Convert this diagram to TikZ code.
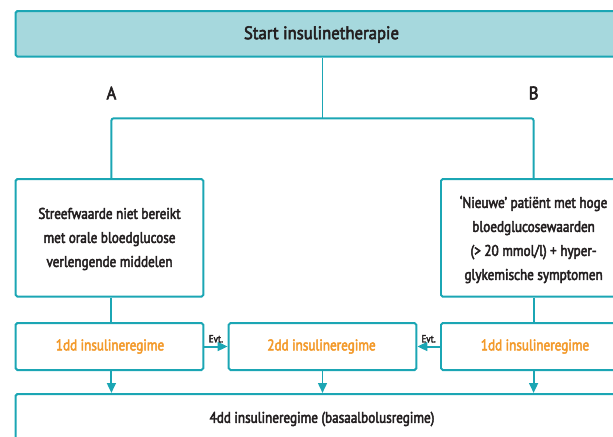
\documentclass[tikz,border=0pt]{standalone}
\usepackage{fontspec}
\setmainfont[FakeStretch=0.85, FakeBold=3]{PT Sans}
\newfontfamily\titlefont[FakeStretch=0.92, FakeBold=3]{PT Sans}
\usetikzlibrary{positioning,calc,arrows.meta}

\definecolor{tealline}{HTML}{1BA6B4}
\definecolor{tealfill}{HTML}{A6D8DD}
\definecolor{regorange}{HTML}{F39A2B}
\definecolor{txtdark}{HTML}{231F20}

\begin{document}
\begin{tikzpicture}[x=0.03cm, y=-0.03cm]
	\useasboundingbox (0,0) rectangle (613,436);
	\clip (0,0) rectangle (613,436);
	\tikzstyle{every node}=[align=center, inner sep=1pt, text=txtdark, font=\fontsize{13.2}{20.5}\selectfont]
	\tikzstyle{box}=[draw=tealline, line width=1.7pt, rounded corners=1.5pt, fill=white]
	\tikzstyle{conn}=[draw=tealline, line width=1.7pt]
	\tikzstyle{arr}=[conn, -{Triangle[width=7.5pt,length=8.5pt]}]
	\tikzstyle{reg}=[text=regorange]

	% columns
	\coordinate (colA) at (111.4, 0);
	\coordinate (colM) at (322.5, 0);
	\coordinate (colB) at (533.6, 0);
	\coordinate (split) at (322.5, 118.3);

	% boxes
	\node[box, fill=tealfill, minimum width=19.03cm, minimum height=1.37cm] (start) at (332.8, 33.85) {};
	\node[box, minimum width=5.63cm, minimum height=3.53cm] (boxA) at (109.45, 237.85) {};
	\node[box, minimum width=6.57cm, minimum height=3.53cm] (boxB) at (550.5, 237.85) {};
	\node[box, minimum width=5.63cm, minimum height=1.41cm] (regA) at (109.45, 346.5) {};
	\node[box, minimum width=5.63cm, minimum height=1.41cm] (regM) at (322.5, 346.5) {};
	\node[box, minimum width=6.57cm, minimum height=1.41cm] (regB) at (550.5, 346.5) {};
	\node[box, minimum width=19.33cm, minimum height=2.28cm] (basal) at (337.8, 432) {};

	% texts
	\node[font=\titlefont\fontsize{15.5}{17}\selectfont] (startTxt) at (321.5, 34.5) {Start insulinetherapie};
	\node[font=\titlefont\fontsize{15.5}{17}\selectfont] (labA) at (111.4, 93) {A};
	\node[font=\titlefont\fontsize{15.5}{17}\selectfont] (labB) at (533.6, 93) {B};
	\node (txtA) at (109.5, 239) {Streefwaarde niet bereikt\\ met orale bloedglucose\\ verlengende middelen};
	\node (txtB) at (533.6, 239.5) {‘Nieuwe’ patiënt met hoge\\ bloedglucosewaarden\\ (> 20 mmol/l) + hyper-\\ glykemische symptomen};
	\node[reg] (txtRegA) at (110, 346.5) {1dd insulineregime};
	\node[reg] (txtRegM) at (321.5, 346.5) {2dd insulineregime};
	\node[reg] (txtRegB) at (535, 346.5) {1dd insulineregime};
	\node (txtBasal) at (322, 419) {4dd insulineregime (basaalbolusregime)};

	% connectors
	\draw[conn] (start.south -| colM) -- (split);
	\draw[conn, rounded corners=2pt] (boxA.north -| colA) |- (split) -| (boxB.north -| colB);
	\draw[conn] (boxA.south -| colA) -- (regA.north -| colA);
	\draw[conn] (boxB.south -| colB) -- (regB.north -| colB);
	\draw[arr] (regA.east) -- node[above=1.5pt, font=\fontsize{9}{10}\selectfont] (evtA) {Evt.} (regM.west);
	\draw[arr] (regB.west) -- node[above=1.5pt, font=\fontsize{9}{10}\selectfont] (evtB) {Evt.} (regM.east);
	\draw[arr] (regA.south -| colA) -- (basal.north -| colA);
	\draw[arr] (regM.south -| colM) -- (basal.north -| colM);
	\draw[arr] (regB.south -| colB) -- (basal.north -| colB);

\end{tikzpicture}
\end{document}
